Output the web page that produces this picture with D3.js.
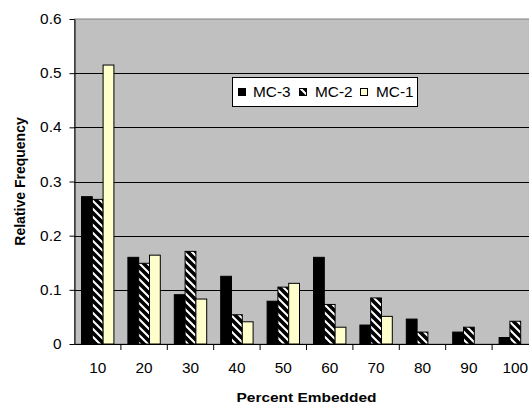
<!DOCTYPE html>
<html><head><meta charset="utf-8">
<script src="https://cdn.jsdelivr.net/npm/d3@7"></script>
<style>
html,body{margin:0;padding:0;background:#fff;overflow:hidden;}
svg{display:block;font-family:"Liberation Sans",Arial,sans-serif;}
</style></head>
<body>
<svg id="chart" width="529" height="405"></svg>
<script>
const categories = ["10","20","30","40","50","60","70","80","90","100"];
const seriesNames = ["MC-3","MC-2","MC-1"];
const mc3 = [0.272,0.160,0.091,0.125,0.079,0.160,0.035,0.046,0.022,0.012];
const mc2 = [0.267,0.149,0.171,0.054,0.105,0.073,0.085,0.022,0.031,0.042];
const mc1 = [0.515,0.164,0.083,0.041,0.112,0.031,0.051,0,0,0];
const yTicks = [0,0.1,0.2,0.3,0.4,0.5,0.6];
const yTickLabels = ["0","0.1","0.2","0.3","0.4","0.5","0.6"];

(function(){
const svg = d3.select("#chart");
const pL = 74.5, pT = 19, pB = 344, pR = 538.5;
const SX = 1.1;

const defs = svg.append("defs");
const pat = defs.append("pattern").attr("id","stripe").attr("patternUnits","userSpaceOnUse")
  .attr("width",8).attr("height",8);
pat.append("rect").attr("width",8).attr("height",8).attr("fill","#fff");
pat.append("path").attr("d","M-2,-2 L10,10 M-2,6 L2,10 M6,-2 L10,2").attr("stroke","#000").attr("stroke-width",3.6);

const fills = ["#000","url(#stripe)","#FFFFCC"];
const data = [mc3, mc2, mc1];

const x = d3.scaleBand().domain(categories).range([pL,pR]).padding(0);
const xs = d3.scaleBand().domain(seriesNames).range([7, x.bandwidth()-7]).padding(0);
const y = d3.scaleLinear().domain([0,0.6]).range([pB,pT]);

svg.append("rect").attr("x",pL).attr("y",pT).attr("width",pR-pL).attr("height",pB-pT)
  .attr("fill","#C0C0C0").attr("stroke","#808080").attr("stroke-width",1);

svg.append("g").selectAll("line").data(yTicks.slice(1,-1)).join("line")
  .attr("x1",pL).attr("x2",pR)
  .attr("y1",d=>Math.round(y(d))+0.5).attr("y2",d=>Math.round(y(d))+0.5)
  .attr("stroke","#000").attr("stroke-width",1);

seriesNames.forEach((s,i)=>{
  svg.append("g").selectAll("rect").data(data[i]).join("rect")
    .attr("x",(d,j)=>x(categories[j])+xs(s))
    .attr("y",d=>y(d))
    .attr("width",xs.bandwidth())
    .attr("height",d=>pB-y(d))
    .attr("fill",fills[i])
    .attr("stroke",d=>d>0?"#000":"none").attr("stroke-width",1);
});

// y axis
const yAxis = d3.axisLeft(y).tickValues(yTicks).tickFormat(()=>"").tickSize(5).tickSizeOuter(0);
const gy = svg.append("g").attr("transform",`translate(${pL},0)`).call(yAxis);
gy.select(".domain").attr("stroke","#000");
gy.selectAll(".tick line").attr("stroke","#000");
svg.append("g").selectAll("g").data(yTicks).join("g")
  .attr("transform",d=>`translate(61.5,${y(d)+5}) scale(${SX},1)`)
  .append("text").attr("text-anchor","end").attr("font-size",14).attr("fill","#000")
  .text((d,i)=>yTickLabels[i]);

// x axis
const gx = svg.append("g").attr("transform",`translate(0,${pB})`);
gx.append("line").attr("x1",pL).attr("x2",pR).attr("y1",0.5).attr("y2",0.5).attr("stroke","#000");
gx.selectAll("line.t").data(categories.slice(1)).join("line").attr("class","t")
  .attr("x1",d=>x(d)).attr("x2",d=>x(d)).attr("y1",0).attr("y2",6).attr("stroke","#000");
gx.selectAll("g.lab").data(categories).join("g").attr("class","lab")
  .attr("transform",d=>`translate(${x(d)+x.bandwidth()/2},29) scale(${SX},1)`)
  .append("text").attr("text-anchor","middle").attr("font-size",14).attr("fill","#000").text(d=>d);

svg.append("text").attr("x",306.5).attr("y",402).attr("text-anchor","middle")
  .attr("font-size",13.5).attr("font-weight","bold")
  .attr("textLength",140).attr("lengthAdjust","spacingAndGlyphs").text("Percent Embedded");
svg.append("text").attr("transform","translate(25,181.5) rotate(-90)").attr("text-anchor","middle")
  .attr("font-size",14).attr("font-weight","bold").text("Relative Frequency");

// legend
const lg = svg.append("g");
lg.append("rect").attr("x",232.5).attr("y",77.5).attr("width",185).attr("height",29)
  .attr("fill","#fff").attr("stroke","#000");
const lx = [238.5, 299.5, 360.5];
const tx = [253, 315, 376];
seriesNames.forEach((s,i)=>{
  lg.append("rect").attr("x",lx[i]).attr("y",88.5).attr("width",7).attr("height",7)
    .attr("fill",fills[i]).attr("stroke","#000");
  lg.append("g").attr("transform",`translate(${tx[i]},97) scale(${SX},1)`)
    .append("text").attr("font-size",14).text(s);
});
})();
</script>
</body></html>
